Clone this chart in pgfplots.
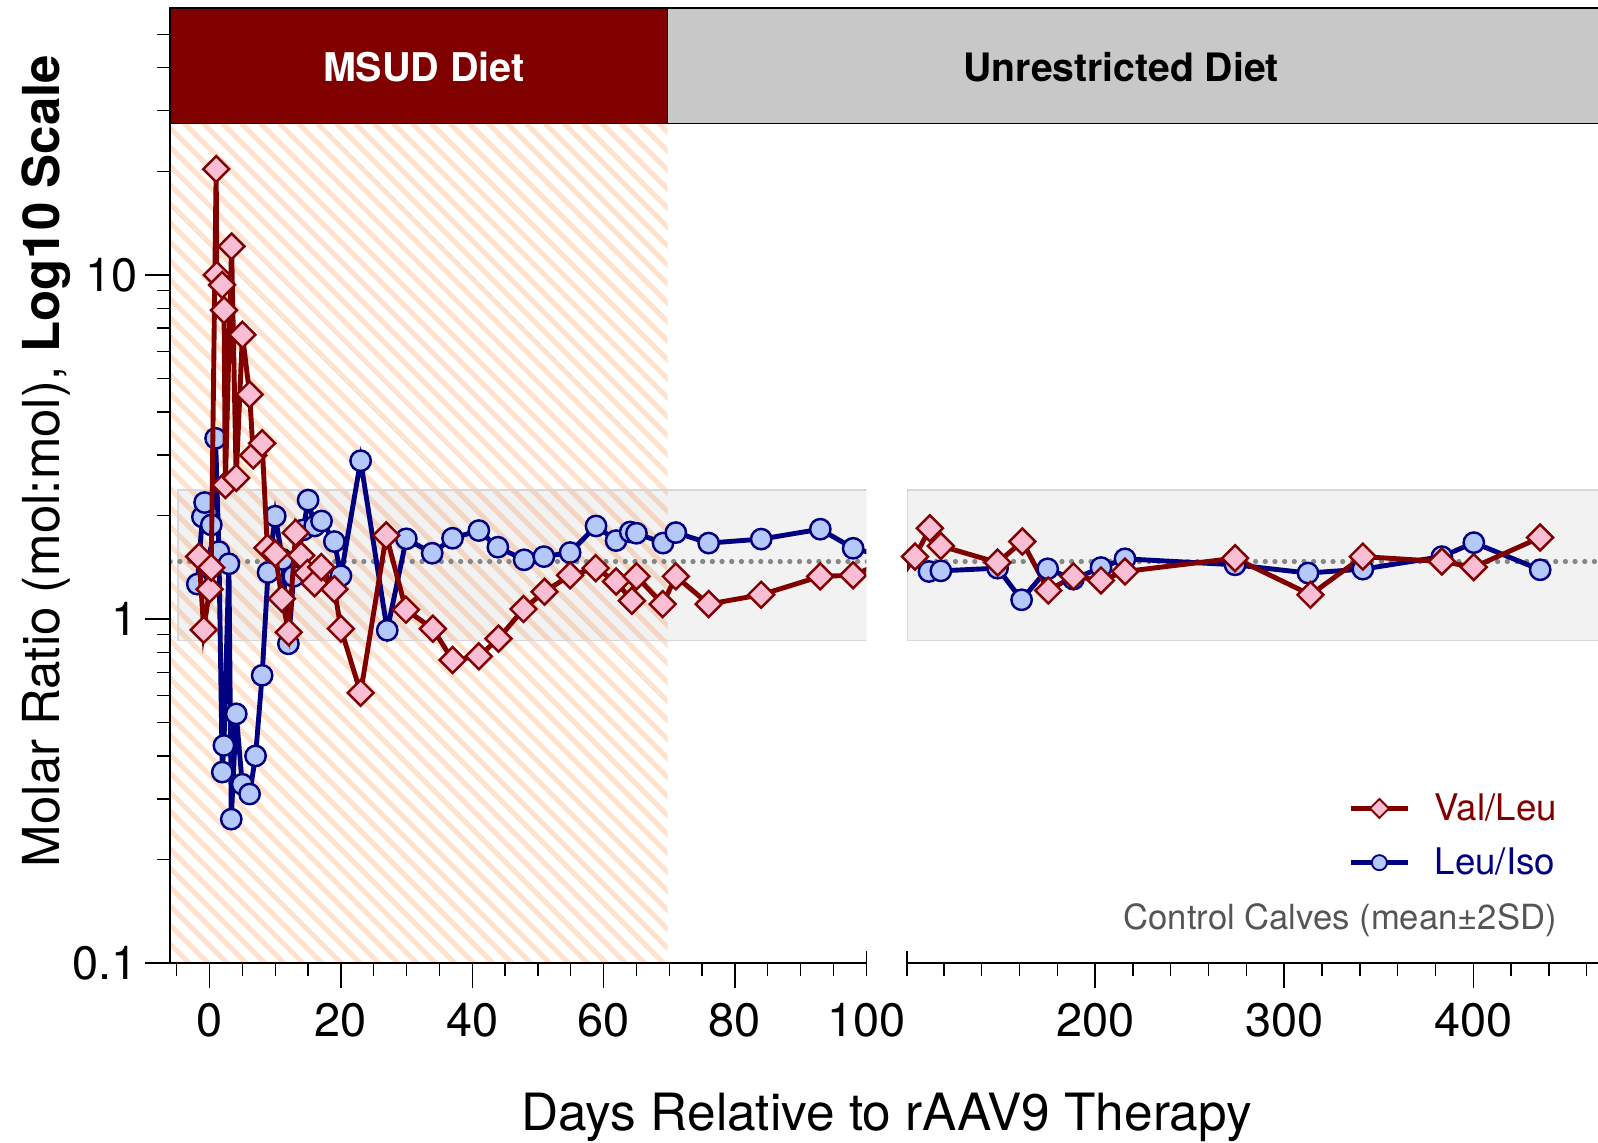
\documentclass[border=0pt]{standalone}
\usepackage{fontspec}
\setmainfont{TeX Gyre Heros}
\usepackage{pgfplots}
\pgfplotsset{compat=1.18}
\definecolor{valred}{RGB}{128,0,0}
\definecolor{valfill}{RGB}{250,190,212}
\definecolor{isonavy}{RGB}{0,0,128}
\definecolor{isofill}{RGB}{180,200,250}
\definecolor{hdrred}{RGB}{128,0,0}
\definecolor{hdrgray}{RGB}{200,200,200}
\definecolor{hatchc}{RGB}{255,226,206}
\definecolor{bandline}{RGB}{215,215,215}
\definecolor{dotgray}{RGB}{135,135,135}
\definecolor{ctrlgray}{RGB}{85,85,85}

\begin{document}
\begin{tikzpicture}
\path[use as bounding box] (0,0) rectangle (784pt,560.5pt);

% ---------------- MSUD-diet hatching (decoration) ----------------
\begin{scope}
\clip (83.5pt,88pt) rectangle (327.5pt,500pt);
\foreach \k in {0,...,72}
  \draw[hatchc, line width=2.5pt] ({83.5pt+\k*9.31pt-412pt},500pt) -- ++(420pt,-420pt);
\end{scope}

% ---------------- left panel ----------------
\begin{axis}[
  scale only axis, height=469pt,
  ymode=log, ymin=0.1, ymax=60,
  axis line style={line width=0.75pt, black},
  tick style={line width=0.7pt, black},
  major tick length=12.25pt, minor tick length=6.4pt,
  tick align=outside,
  tick label style={font=\fontsize{23}{27}\selectfont},
  xticklabel style={yshift=-4pt},
  /pgf/number format/assume math mode=true,
  clip=true, axis on top,
  at={(83.5pt,88pt)}, anchor=south west, width=341.5pt,
  xmin=-6, xmax=100,
  axis x line*=bottom, axis y line*=left,
  xtick={0,20,40,60,80}, minor xtick={-5,0,...,95},
  extra x ticks={100}, extra x tick style={tick align=center, xticklabel style={yshift=-6pt}},
  ytick={0.1,1,10}, yticklabels={0.1,1,10},
  minor ytick={0.2,0.3,0.4,0.5,0.6,0.7,0.8,0.9,2,3,4,5,6,7,8,9,20,30,40,50},
  clip marker paths=true,
]
\filldraw[draw=bandline, line width=0.6pt, fill=black, fill opacity=0.05]
  (axis cs:-4.8,0.867) rectangle (axis cs:101,2.37);
\draw[dotgray, line width=2.6pt, line cap=round, dash pattern=on 0pt off 4.75pt]
  (axis cs:-6,1.469) -- (axis cs:101,1.469);

\addplot[color=isonavy, line width=2.4pt, mark=*, mark size=5pt,
    mark options={fill=isofill, draw=isonavy, line width=1.2pt}] coordinates {
(-1.87,1.263) (-1.1,1.98) (-0.76,2.18) (0.26,1.877) (0.91,3.35) (1.42,1.57)
(1.93,0.359) (2.18,0.429) (2.94,1.447) (3.3,0.262) (4.06,0.53) (4.97,0.331)
(6.09,0.31) (7.0,0.40) (8.0,0.686) (8.9,1.365) (10.0,1.99) (11.1,1.49)
(12.0,0.847) (12.8,1.33) (14.25,1.815) (15.0,2.216) (16.0,1.864) (17.05,1.927)
(19.0,1.679) (20.0,1.335) (23.0,2.883) (27.05,0.927) (29.96,1.71) (33.9,1.553)
(37.0,1.717) (41.0,1.807) (43.9,1.617) (47.9,1.486) (50.9,1.518) (54.9,1.56)
(58.85,1.864) (61.9,1.69) (64.05,1.79) (65.0,1.775) (69.05,1.662) (71.0,1.783)
(76.0,1.662) (84.0,1.707) (93.0,1.824) (98.0,1.605) (112.1,1.374)
};
\addplot[color=valred, line width=2.4pt, mark=square*, mark size=4.5pt,
    mark options={rotate=45, fill=valfill, draw=valred, line width=1.2pt}] coordinates {
(-1.6,1.52) (-0.9,0.93) (0,1.22) (0.25,1.41) (1.0,20.3) (1.1,10.0)
(1.9,9.35) (2.2,7.9) (2.4,2.45) (3.35,12.1) (4.05,2.57) (5.0,6.7)
(6.1,4.49) (6.65,2.99) (8.0,3.24) (8.8,1.61) (10.0,1.55) (11.0,1.145)
(12.05,0.915) (13.1,1.78) (13.95,1.53) (14.9,1.36) (16.0,1.27) (17.0,1.415)
(19.0,1.22) (20.0,0.937) (23.0,0.61) (26.9,1.75) (29.9,1.064) (34.0,0.937)
(37.0,0.76) (41.0,0.779) (44.0,0.877) (47.8,1.069) (51.0,1.2) (54.9,1.34)
(58.8,1.405) (61.9,1.285) (64.3,1.13) (65.0,1.33) (69.0,1.105) (71.0,1.33)
(76.0,1.105) (84.0,1.176) (93.0,1.33) (98.0,1.34) (104.7,1.518)
};
\end{axis}

% ---------------- right panel ----------------
\begin{axis}[
  scale only axis, height=469pt,
  ymode=log, ymin=0.1, ymax=60,
  axis line style={line width=0.75pt, black},
  tick style={line width=0.7pt, black},
  major tick length=12.25pt, minor tick length=6.4pt,
  tick align=outside,
  tick label style={font=\fontsize{23}{27}\selectfont},
  xticklabel style={yshift=-4pt},
  /pgf/number format/assume math mode=true,
  clip=true,
  at={(445pt,88pt)}, anchor=south west, width=339pt,
  xmin=100.5, xmax=466,
  axis x line*=bottom, axis y line=none,
  xtick={200,300,400}, minor xtick={120,140,...,460},
  extra x ticks={100.5}, extra x tick labels={}, extra x tick style={tick align=center},
  ytick=\empty,
  legend cell align=left,
  legend style={draw=none, fill=none, at={(0.941,0.1334)}, anchor=east,
    inner sep=0pt, row sep=12pt, column sep=12pt,
    font=\fontsize{18}{21}\selectfont, nodes={inner sep=0pt}},
  legend image code/.code={\draw[mark repeat=2,mark phase=2,#1]
    plot coordinates {(0pt,0pt) (14pt,0pt) (28pt,0pt)};},
]
\filldraw[draw=bandline, line width=0.6pt, fill=black, fill opacity=0.05]
  (axis cs:100.5,0.867) rectangle (axis cs:480,2.37);
\draw[dotgray, line width=2.6pt, line cap=round, dash pattern=on 0pt off 4.75pt]
  (axis cs:100.5,1.469) -- (axis cs:480,1.469);

\addplot[color=isonavy, line width=2.4pt, mark=*, mark size=5pt,
    mark options={fill=isofill, draw=isonavy, line width=1.2pt},
    mark repeat=1, mark phase=1, forget plot] coordinates {
(98.0,1.605) (112.1,1.374) (118.4,1.38) (148.4,1.405) (161.1,1.137) (174.9,1.399)
(188.5,1.306) (203.1,1.411) (215.8,1.496) (274,1.437) (312.6,1.36) (341.6,1.396)
(383.4,1.518) (400.3,1.667) (435.4,1.39)
};
\addplot[color=valred, line width=2.4pt, mark=square*, mark size=4.5pt,
    mark options={rotate=45, fill=valfill, draw=valred, line width=1.2pt},
    mark repeat=1, mark phase=1, forget plot] coordinates {
(98.0,1.34) (104.7,1.518) (112.6,1.835) (118.4,1.63) (148.4,1.459) (161.5,1.68)
(175.2,1.21) (188.5,1.33) (203.1,1.294) (215.8,1.374) (274,1.502) (313.9,1.176)
(341.6,1.518) (383.4,1.469) (400.3,1.415) (435.4,1.725)
};
\addlegendimage{valred, line width=2.2pt, mark=square*, mark size=3.3pt,
  mark options={rotate=45, fill=valfill, draw=valred, line width=0.9pt}}
\addlegendentry{\textcolor{valred}{Val/Leu}}
\addlegendimage{isonavy, line width=2.2pt, mark=*, mark size=3.7pt,
  mark options={fill=isofill, draw=isonavy, line width=0.9pt}}
\addlegendentry{\textcolor{isonavy}{Leu/Iso}}
\node[anchor=base east, inner sep=0pt, text=ctrlgray, font=\fontsize{17}{20}\selectfont]
  at (rel axis cs:0.941,0.0352) {Control Calves (mean±2SD)};
\end{axis}

% ---------------- header ----------------
\filldraw[fill=hdrred, draw=black, line width=0.75pt] (83.5pt,500pt) rectangle (327.5pt,556.5pt);
\filldraw[fill=hdrgray, draw=black, line width=0.75pt] (327.5pt,500pt) rectangle (790pt,556.5pt);
\node[text=white, font=\bfseries\fontsize{19.4}{22}\selectfont] at (208pt,527.5pt) {MSUD Diet};
\node[text=black, font=\bfseries\fontsize{19.2}{22}\selectfont] at (550pt,527.5pt) {Unrestricted Diet};

% ---------------- labels ----------------
\node[rotate=90, anchor=base, font=\fontsize{25}{30}\selectfont] at (29pt,334.3pt)
  {Molar Ratio (mol:mol), \textbf{Log10 Scale}};
\node[anchor=base, font=\fontsize{25.2}{30}\selectfont] at (435pt,6pt)
  {Days Relative to rAAV9 Therapy};
\end{tikzpicture}
\end{document}
